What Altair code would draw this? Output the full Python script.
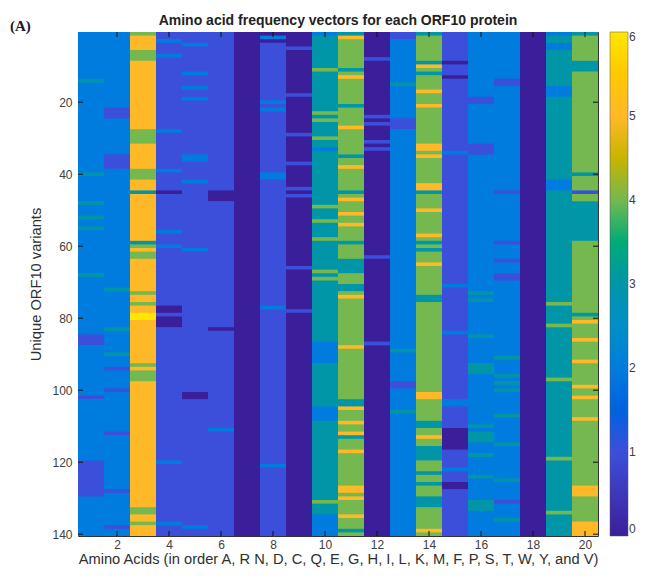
import altair as alt
import pandas as pd

N_ROWS = 140
X_TICKS = list(range(2, 21, 2))
Y_TICKS = list(range(20, 141, 20))
CBAR_TICKS = [0, 1, 2, 3, 4, 5, 6]

COL_BASE = [2, 2, 5, 1, 1, 1, 0, 1, 0, 3, 4, 0, 2, 4, 1, 2, 2, 0, 3, 4]

# Per column: (first row, last row, value)
C1 = [(14,14,3),(40,40,3),(48,48,3),(52,52,3),(55,55,3),(68,68,3),(85,87,1),(102,102,1),(120,129,1)]
C2 = [(22,24,1),(35,38,1),(72,72,3),(83,83,3),(90,90,3),(94,94,1),(100,100,1),(112,112,1),(128,128,1),(138,138,1)]
C3 = [(1,1,4),(6,8,4),(28,31,4),(39,41,4),(45,45,3),(59,59,3),(60,60,4),(62,63,4),(73,73,4),(76,76,4),
      (79,80,6),(93,93,4),(95,97,4),(133,134,4),(137,137,4)]
C4 = [(3,3,2),(7,7,2),(28,28,2),(39,39,2),(45,45,0),(56,56,2),(60,60,2),(77,78,0),(80,82,0),(120,120,2),(137,137,2)]
C5 = [(4,4,2),(12,12,2),(16,16,2),(19,19,2),(35,36,2),(42,42,2),(61,61,2),(101,102,0),(138,138,2)]
C6 = [(45,47,0),(83,83,0),(111,111,2)]
C7 = []
C8 = [(1,1,0),(2,2,2),(3,3,0),(20,20,2),(22,22,2),(40,41,2),(77,77,2),(121,121,2)]
C9 = [(5,5,1),(18,18,1),(29,29,1),(37,37,1),(44,44,1),(46,46,1),(66,66,1),(78,78,1)]
C10 = [(1,1,2),(11,11,4),(23,23,4),(25,25,4),(30,30,4),(33,33,2),(49,49,4),(53,53,4),(58,58,4),(67,67,4),(69,69,4),
       (87,92,2),(105,108,2),(131,131,4),(135,140,2)]
C11 = [(1,1,3),(2,2,5),(11,11,3),(13,13,5),(21,21,3),(27,27,5),(35,35,3),(38,38,5),(45,45,3),(47,47,5),(51,51,5),
       (54,54,5),(59,59,3),(64,67,3),(71,72,3),(74,74,5),(88,88,5),(103,104,3),(105,105,5),(109,109,5),(112,112,5),
       (113,113,3),(117,117,5),(127,128,5),(130,130,5),(135,135,5),(139,139,3)]
C12 = [(8,8,1),(24,24,1),(26,26,1),(31,31,1),(33,33,1),(63,63,1),(87,87,1)]
C13 = [(1,2,1),(15,15,3),(25,27,1),(89,89,3),(98,99,1),(106,106,3)]
C14 = [(1,1,3),(9,9,3),(10,10,5),(12,12,3),(17,17,5),(21,21,5),(32,33,5),(35,35,5),(43,44,5),(45,45,3),(50,50,5),
       (57,57,5),(59,59,3),(61,61,3),(65,65,5),(74,75,3),(101,102,5),(109,110,3),(113,113,5),(116,119,3),(123,123,3),
       (126,126,3),(130,132,3),(139,139,5)]
C15 = [(9,9,0),(13,13,0),(34,34,2),(71,71,2),(84,84,2),(103,104,2),(111,116,0),(122,122,2),(126,127,0)]
C16 = [(19,20,1),(32,34,1),(73,73,3),(75,75,3),(85,85,3),(93,95,3),(110,110,3),(112,114,3),(118,118,3),(124,124,3),(131,133,3)]
C17 = [(14,15,1),(45,45,1),(59,59,1),(64,64,1),(68,69,1),(91,91,3),(96,96,3),(98,98,3),(100,100,3),(107,107,3),
       (115,115,3),(125,125,3),(131,131,1),(136,136,3)]
C18 = []
C19 = [(1,1,2),(4,5,2),(16,18,2),(42,44,2),(76,76,4),(82,82,4),(97,97,4),(119,119,4),(134,134,4)]
C20 = [(1,1,3),(9,11,3),(40,40,3),(45,45,1),(48,58,3),(79,79,3),(81,81,5),(86,86,5),(92,92,5),(99,99,5),(102,102,5),
       (108,108,5),(127,129,5),(137,140,5)]

COLS = [C1,C2,C3,C4,C5,C6,C7,C8,C9,C10,C11,C12,C13,C14,C15,C16,C17,C18,C19,C20]

COLOR_STOPS = [0, 1, 1.5, 2, 2.5, 3, 3.5, 4, 4.5, 5, 5.5, 6]
COLOR_RANGE = ["#3b1f9a", "#3b4fdb", "#0062e0", "#007cde", "#008fc8", "#0096a8",
               "#00ab78", "#75b850", "#c8b400", "#ffb928", "#ffc800", "#ffe600"]

rows = []
for c, (base, runs) in enumerate(zip(COL_BASE, COLS), start=1):
    vals = [base] * N_ROWS
    for a, b, v in runs:
        for r in range(a, b + 1):
            vals[r - 1] = v
    # one rectangle per stretch of equal values; each runs slightly under the next one,
    # so that no white hairline shows at fractional row edges
    start = 0
    for i in range(1, N_ROWS + 1):
        if i == N_ROWS or vals[i] != vals[start]:
            rows.append(dict(x0=c - 0.5, x1=c + 0.5, y0=start + 0.5,
                             y1=min(i + 0.7, N_ROWS + 0.5), v=vals[start]))
            start = i
df = pd.DataFrame(rows)

W, H = 520, 504
xs = alt.Scale(domain=[0.5, 20.5], nice=False, zero=False)
ys = alt.Scale(domain=[0.5, 140.5], nice=False, zero=False, reverse=True)
cs = alt.Scale(domain=COLOR_STOPS, range=COLOR_RANGE)
LAB = "#404040"
FONT = "Liberation Sans"

heat = alt.Chart(df).mark_rect(strokeWidth=0).encode(
    x=alt.X("x0:Q", scale=xs, axis=alt.Axis(
        values=X_TICKS, tickSize=0, grid=False, domain=False, labelColor=LAB, labelFontSize=12,
        labelFont=FONT, labelPadding=3, title="Amino Acids (in order A, R N, D, C, Q, E, G, H, I, L, K, M, F, P, S, T, W, Y, and V)",
        titleFont=FONT, titleFontSize=14.7, titleFontWeight="normal", titleColor="#303030", titlePadding=1)),
    x2="x1:Q",
    y=alt.Y("y0:Q", scale=ys, axis=alt.Axis(
        values=Y_TICKS, tickSize=0, grid=False, domain=False, labelColor=LAB, labelFontSize=12,
        labelFont=FONT, labelPadding=6, title="Unique ORF10 variants", titleFont=FONT, titleFontSize=14.7,
        titleFontWeight="normal", titleColor="#303030", titlePadding=8)),
    y2="y1:Q",
    color=alt.Color("v:Q", scale=cs, legend=alt.Legend(
        type="gradient", title=None, gradientLength=H, gradientThickness=18, offset=12, values=CBAR_TICKS, format="d",
        labelFontSize=12, labelColor=LAB, labelFont=FONT, labelOffset=1, gradientStrokeColor="#555555",
        gradientStrokeWidth=0.5)),
)

xt = pd.DataFrame({"t": X_TICKS})
yt = pd.DataFrame({"t": Y_TICKS})
TK = dict(color="#111111", strokeWidth=1)
x_noaxis = alt.X("t:Q", scale=xs, axis=None)
y_noaxis = alt.Y("t:Q", scale=ys, axis=None)
tick_b = alt.Chart(xt).mark_rule(**TK).encode(x=x_noaxis, y=alt.value(H), y2=alt.value(H - 5))
tick_t = alt.Chart(xt).mark_rule(**TK).encode(x=x_noaxis, y=alt.value(0), y2=alt.value(5))
tick_l = alt.Chart(yt).mark_rule(**TK).encode(y=y_noaxis, x=alt.value(0), x2=alt.value(5))
tick_r = alt.Chart(yt).mark_rule(**TK).encode(y=y_noaxis, x=alt.value(W), x2=alt.value(W - 5))
panel_tag = alt.Chart(pd.DataFrame({"s": ["(A)"]})).mark_text(
    font="Liberation Serif", fontSize=15, fontWeight="bold", color="#1a1a2a", align="left", baseline="middle"
).encode(text="s:N", x=alt.value(-68), y=alt.value(-6))

chart = (
    alt.layer(heat, tick_b, tick_t, tick_l, tick_r, panel_tag)
    .resolve_scale(y="independent", x="independent")
    .properties(
        width=W, height=H, autosize=alt.AutoSizeParams(type="none"),
        padding={"left": 70, "top": 24, "right": 39, "bottom": 35},
        title=alt.TitleParams("Amino acid frequency vectors for each ORF10 protein", font=FONT, fontSize=14,
                              fontWeight="bold", color="#222222", offset=-9, anchor="middle"),
    )
    .configure_view(stroke="#333333", strokeWidth=1)
)
chart.save("out.html", embed_options={"renderer": "svg", "actions": False})
